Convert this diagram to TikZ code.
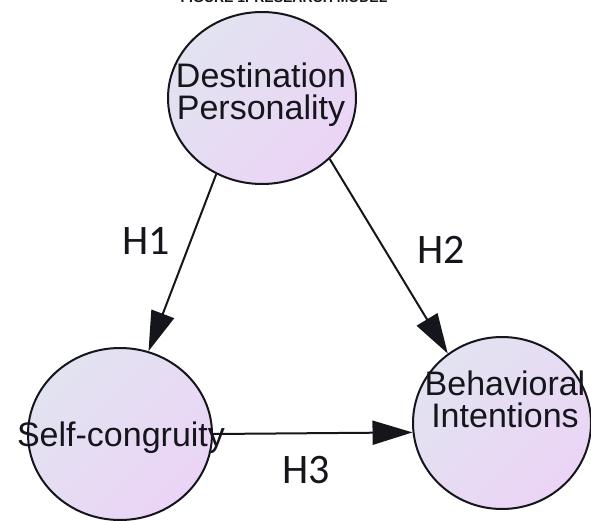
\documentclass[tikz,border=0pt]{standalone}
\usepackage{fontspec}
\setmainfont{Liberation Sans}
\newfontfamily\labfont{Carlito}
\usetikzlibrary{shapes.geometric,arrows.meta}
\definecolor{ctop}{HTML}{E2E3F0}
\definecolor{cbot}{HTML}{EBD4F6}
\definecolor{ink}{HTML}{15151C}
\begin{document}
\begin{tikzpicture}[x=1pt,y=1pt,
  circ/.style={ellipse, draw=ink, line width=2pt, inner sep=0pt,
    top color=ctop, bottom color=cbot, shading angle=45, minimum height=172pt},
  txt/.style={align=center, inner sep=0pt, text=ink,
    font=\fontsize{34}{32}\selectfont},
  lab/.style={inner sep=0pt, text=ink, font=\labfont\fontsize{42}{42}\selectfont},
  arr/.style={draw=ink, line width=2pt, -{Triangle[length=40pt,width=24pt]}}]
\useasboundingbox (0,0) rectangle (591,-521);
\node[anchor=base, inner sep=0pt, text=ink, font=\bfseries\fontsize{14}{14}\selectfont] (title) at (284,-3) {FIGURE 1. RESEARCH MODEL};
\node[circ, minimum width=188pt] (dp) at (262,-98) {};
\node[circ, minimum width=184pt] (sc) at (120,-434) {};
\node[circ, minimum width=178pt] (bi) at (502,-423) {};
\node[txt] (dpt) at (261,-95) {Destination\\Personality};
\node[txt] (sct) at (121,-438) {Self-congruity};
\node[txt] (bit) at (505,-399) {Behavioral\\Intentions};
\draw[arr] (dp.239) -- (sc.71);
\draw[arr] (dp.318) -- (bi.128);
\draw[arr] (sc.east) -- (bi.186);
\node[lab] (h1) at (146,-241) {H1};
\node[lab] (h2) at (441,-250) {H2};
\node[lab] (h3) at (306,-470) {H3};
\end{tikzpicture}
\end{document}
